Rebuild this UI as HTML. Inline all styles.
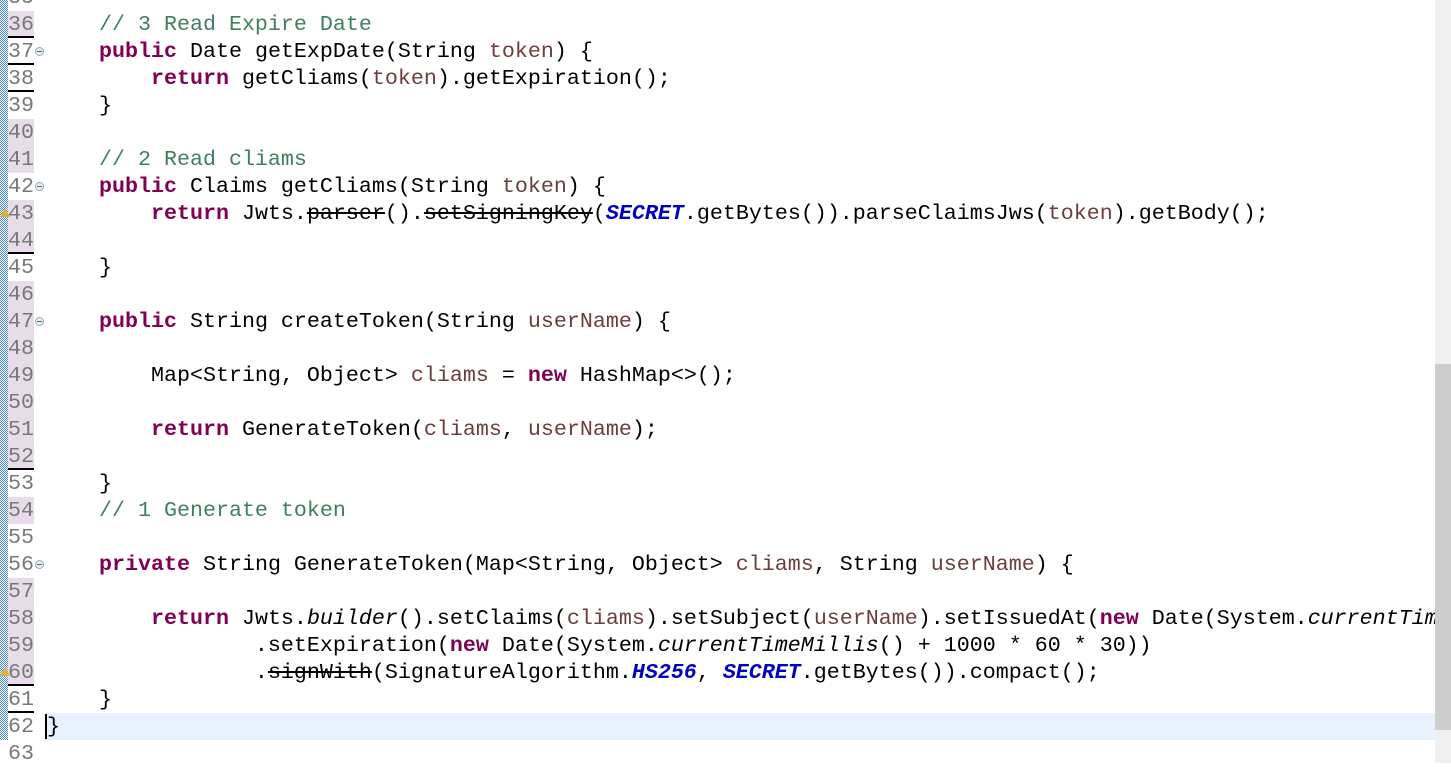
<!DOCTYPE html>
<html><head><style>
body{margin:0;width:1451px;height:763px;overflow:hidden;background:#fff;font-family:"Liberation Mono",monospace;font-size:21.67px;}
.ruler{position:absolute;left:0;top:0;width:8px;height:740px;background-color:#3a7bd5;background-image:repeating-conic-gradient(#fff 0 25%,#4a8ae0 0 50%);background-size:2px 2px;}
.ln{position:absolute;left:8px;width:26px;height:27px;line-height:27px;color:#787878;}
.pk{background:#e8dcea;}
.ul{border-bottom:2px solid #000;height:25px;}
.fold{position:absolute;left:35px;width:7px;height:7px;border:1px solid #9aa;border-radius:50%;background:#e8eef3;}
.fold:after{content:"";position:absolute;left:1px;top:3px;width:5px;height:1px;background:#567;}
.code{position:absolute;left:47px;width:1388px;height:27px;line-height:27px;white-space:pre;overflow:hidden;color:#000;}
.k{color:#7f0055;font-weight:bold}
.c{color:#3f7f5f}
.p{color:#6a3e3e}
.f{color:#0000c0;font-style:italic;font-weight:bold}
.i{font-style:italic}
.s{text-decoration:line-through}
.cur{position:absolute;left:45px;top:713px;width:1390px;height:27px;background:#e8f2fe;}
.sb{position:absolute;left:1435px;top:0;width:16px;height:763px;background:#f0f0f0;}
.th{position:absolute;left:1435px;top:364px;width:16px;height:366px;background:#cdcdcd;}
.warn{position:absolute;left:0;width:0;height:0;border-left:5px solid transparent;border-right:5px solid transparent;border-bottom:9px solid #e0b030;}
</style></head><body>
<div class="ruler"></div>
<div class="cur"></div>
<div class="ln" style="top:-16px">35</div>
<div class="ln pk ul" style="top:11px">36</div>
<div class="ln ul" style="top:38px">37</div><div class="fold" style="top:47px"></div>
<div class="ln ul" style="top:65px">38</div>
<div class="ln" style="top:92px">39</div>
<div class="ln pk" style="top:119px">40</div>
<div class="ln pk" style="top:146px">41</div>
<div class="ln" style="top:173px">42</div><div class="fold" style="top:182px"></div>
<div class="ln pk" style="top:200px">43</div><div class="warn" style="top:208px"></div>
<div class="ln pk ul" style="top:227px">44</div>
<div class="ln" style="top:254px">45</div>
<div class="ln pk" style="top:281px">46</div>
<div class="ln pk" style="top:308px">47</div><div class="fold" style="top:317px"></div>
<div class="ln pk" style="top:335px">48</div>
<div class="ln pk" style="top:362px">49</div>
<div class="ln pk" style="top:389px">50</div>
<div class="ln pk" style="top:416px">51</div>
<div class="ln pk ul" style="top:443px">52</div>
<div class="ln" style="top:470px">53</div>
<div class="ln pk" style="top:497px">54</div>
<div class="ln" style="top:524px">55</div>
<div class="ln" style="top:551px">56</div><div class="fold" style="top:560px"></div>
<div class="ln pk" style="top:578px">57</div>
<div class="ln pk" style="top:605px">58</div>
<div class="ln pk" style="top:632px">59</div>
<div class="ln pk ul" style="top:659px">60</div><div class="warn" style="top:667px"></div>
<div class="ln ul" style="top:686px">61</div>
<div class="ln" style="top:713px">62</div>
<div class="ln" style="top:740px">63</div>

<div class="code" style="top:11px">    <span class="c">// 3 Read Expire Date</span></div>
<div class="code" style="top:38px">    <span class="k">public</span> Date getExpDate(String <span class="p">token</span>) {</div>
<div class="code" style="top:65px">        <span class="k">return</span> getCliams(<span class="p">token</span>).getExpiration();</div>
<div class="code" style="top:92px">    }</div>
<div class="code" style="top:146px">    <span class="c">// 2 Read cliams</span></div>
<div class="code" style="top:173px">    <span class="k">public</span> Claims getCliams(String <span class="p">token</span>) {</div>
<div class="code" style="top:200px">        <span class="k">return</span> Jwts.<span class="s">parser</span>().<span class="s">setSigningKey</span>(<span class="f">SECRET</span>.getBytes()).parseClaimsJws(<span class="p">token</span>).getBody();</div>
<div class="code" style="top:254px">    }</div>
<div class="code" style="top:308px">    <span class="k">public</span> String createToken(String <span class="p">userName</span>) {</div>
<div class="code" style="top:362px">        Map&lt;String, Object&gt; <span class="p">cliams</span> = <span class="k">new</span> HashMap&lt;&gt;();</div>
<div class="code" style="top:416px">        <span class="k">return</span> GenerateToken(<span class="p">cliams</span>, <span class="p">userName</span>);</div>
<div class="code" style="top:470px">    }</div>
<div class="code" style="top:497px">    <span class="c">// 1 Generate token</span></div>
<div class="code" style="top:551px">    <span class="k">private</span> String GenerateToken(Map&lt;String, Object&gt; <span class="p">cliams</span>, String <span class="p">userName</span>) {</div>
<div class="code" style="top:605px">        <span class="k">return</span> Jwts.<span class="i">builder</span>().setClaims(<span class="p">cliams</span>).setSubject(<span class="p">userName</span>).setIssuedAt(<span class="k">new</span> Date(System.<span class="i">currentTimeMillis</span>()))</div>
<div class="code" style="top:632px">                .setExpiration(<span class="k">new</span> Date(System.<span class="i">currentTimeMillis</span>() + 1000 * 60 * 30))</div>
<div class="code" style="top:659px">                .<span class="s">signWith</span>(SignatureAlgorithm.<span class="f">HS256</span>, <span class="f">SECRET</span>.getBytes()).compact();</div>
<div class="code" style="top:686px">    }</div>
<div class="code" style="top:713px;background:transparent">}</div>
<div style="position:absolute;left:45px;top:714px;width:2px;height:25px;background:#000"></div>
<div class="sb"></div><div class="th"></div>
</body></html>
